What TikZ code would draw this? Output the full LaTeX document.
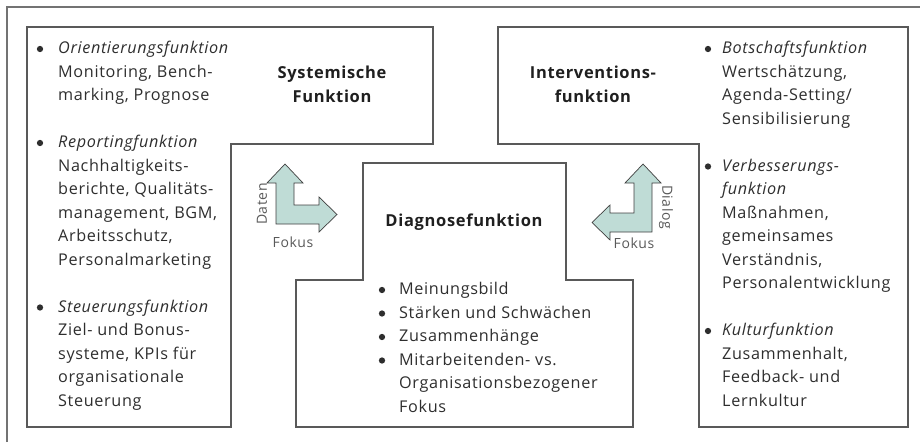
\documentclass[tikz,border=0pt]{standalone}
\usepackage{fontspec}
\setmainfont[LetterSpace=4]{Open Sans}
\begin{document}
\begin{tikzpicture}[x=1pt,y=-1pt,
  box/.style={draw=black!65, line width=1.2pt, line join=miter},
  frame/.style={draw=black!55, line width=1.2pt},
  txt/.style={inner sep=0pt, anchor=base west, text=black!82, font=\fontsize{16.2}{18}\selectfont},
  head/.style={inner sep=0pt, align=center, text=black!88, font=\fontsize{16.5}{24.5}\selectfont\bfseries},
  bul/.style={circle, fill=black!82, inner sep=0pt, minimum size=6.3pt},
  lab/.style={inner sep=0pt, text=black!65, font=\fontsize{14}{16}\selectfont},
  arr/.style={fill=arrowfill, draw=black!75, line width=0.7pt, line join=miter}]
\definecolor{arrowfill}{HTML}{BFDCD6}
\useasboundingbox (0,0) rectangle (920,442);
% outer frame
\draw[frame] (7,442) -- (7,7) -- (920,7);
% boxes
\draw[box] (27,27) -- (433,27) -- (433,144) -- (231,144) -- (231,427) -- (27,427) -- cycle;
\draw[box] (363,163) -- (566,163) -- (566,280) -- (633,280) -- (633,427) -- (296,427) -- (296,280) -- (363,280) -- cycle;
\draw[box] (498,27) -- (908,27) -- (908,427) -- (699,427) -- (699,144) -- (498,144) -- cycle;
% arrows
\draw[arr] (276,224) -- (276,183) -- (267,183) -- (285,164) -- (303,183) -- (294,183) -- (294,205) -- (319,205) -- (319,197) -- (337,214.5) -- (319,232) -- (319,224) -- cycle;
\draw[arr] (652,232) -- (652,183) -- (661,183) -- (643,164) -- (625,183) -- (634,183) -- (634,213) -- (610,213) -- (610,205) -- (592,222.5) -- (610,240) -- (610,232) -- cycle;
\node[lab, rotate=90] (daten) at (262,204) {Daten};
\node[lab] (fokus1) at (293,242) {Fokus};
\node[lab, rotate=-90] (dialog) at (666,207) {Dialog};
\node[lab] (fokus2) at (634,243) {Fokus};
% headings
\node[head] (sys) at (332,84.5) {Systemische\\Funktion};
\node[head] (int) at (593,84.5) {Interventions-\\funktion};
\node[head] (dia) at (464,222) {Diagnosefunktion};
% left column
\node[bul] (lb1) at (40,49) {};
\node[txt] (l1) at (58,53.5) {\itshape Orientierungsfunktion};
\node[txt] (l2) at (58,77) {Monitoring, Bench-};
\node[txt] (l3) at (58,100.5) {marking, Prognose};
\node[bul] (lb2) at (40,143) {};
\node[txt] (l4) at (58,147.5) {\itshape Reportingfunktion};
\node[txt] (l5) at (58,171) {Nachhaltigkeits-};
\node[txt] (l6) at (58,194.5) {berichte, Qualitäts-};
\node[txt] (l7) at (58,218) {management, BGM,};
\node[txt] (l8) at (58,241.5) {Arbeitsschutz,};
\node[txt] (l9) at (58,265) {Personalmarketing};
\node[bul] (lb3) at (40,307.5) {};
\node[txt] (l10) at (58,312) {\itshape Steuerungsfunktion};
\node[txt] (l11) at (58,335.5) {Ziel- und Bonus-};
\node[txt] (l12) at (58,359) {systeme, KPIs für};
\node[txt] (l13) at (58,382.5) {organisationale};
\node[txt] (l14) at (58,406) {Steuerung};
% right column
\node[bul] (rb1) at (708,49) {};
\node[txt] (r1) at (722,53.5) {\itshape Botschaftsfunktion};
\node[txt] (r2) at (722,77) {Wertschätzung,};
\node[txt] (r3) at (722,100.5) {Agenda-Setting/};
\node[txt] (r4) at (722,124) {Sensibilisierung};
\node[bul] (rb2) at (708,166.5) {};
\node[txt] (r5) at (722,171) {\itshape Verbesserungs-};
\node[txt] (r6) at (722,194.5) {\itshape funktion};
\node[txt] (r7) at (722,218) {Maßnahmen,};
\node[txt] (r8) at (722,241.5) {gemeinsames};
\node[txt] (r9) at (722,265) {Verständnis,};
\node[txt] (r10) at (722,288.5) {Personalentwicklung};
\node[bul] (rb3) at (708,331) {};
\node[txt] (r11) at (722,335.5) {\itshape Kulturfunktion};
\node[txt] (r12) at (722,359) {Zusammenhalt,};
\node[txt] (r13) at (722,382.5) {Feedback- und};
\node[txt] (r14) at (722,406) {Lernkultur};
% diagnose list
\node[bul] (db1) at (382,290) {};
\node[txt] (d1) at (399,294.5) {Meinungsbild};
\node[bul] (db2) at (382,313.5) {};
\node[txt] (d2) at (399,318) {Stärken und Schwächen};
\node[bul] (db3) at (382,337) {};
\node[txt] (d3) at (399,341.5) {Zusammenhänge};
\node[bul] (db4) at (382,360.5) {};
\node[txt] (d4) at (399,365) {Mitarbeitenden- vs.};
\node[txt] (d5) at (399,388.5) {Organisationsbezogener};
\node[txt] (d6) at (399,412) {Fokus};
\end{tikzpicture}
\end{document}
